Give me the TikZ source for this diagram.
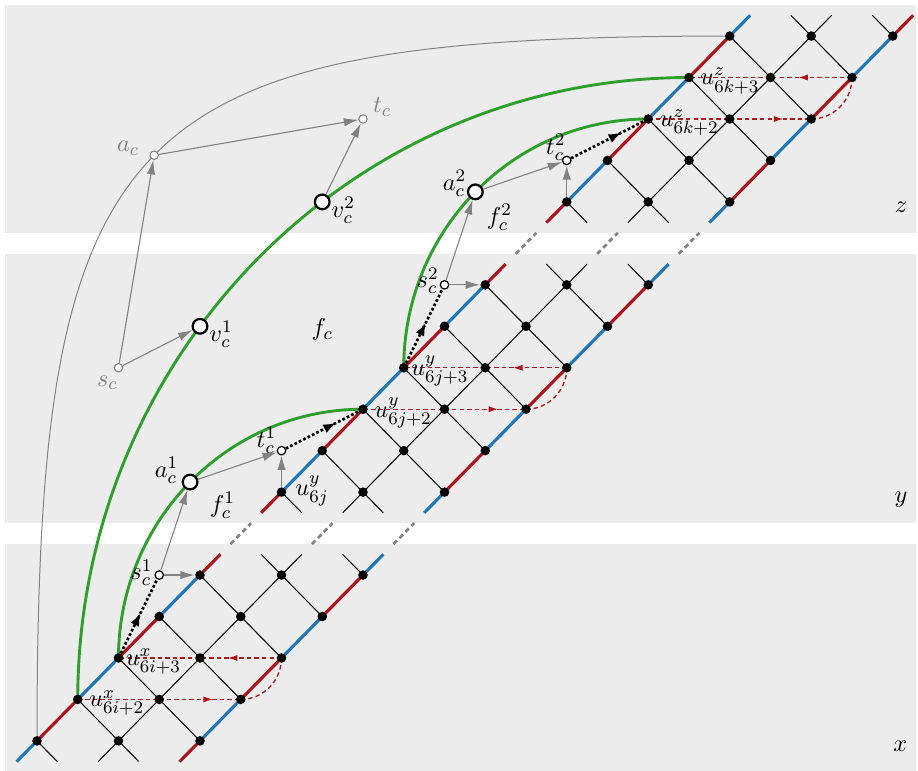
\documentclass[11pt,tikz,border=0pt]{standalone}
\usepackage{amsmath}
\usepackage{xcolor}
\usepackage{tikz}
\usetikzlibrary{
  arrows.meta,
  positioning,
  calc,
  backgrounds,
  decorations.markings
}
\definecolor{railred}{RGB}{170,22,28}
\definecolor{railblue}{RGB}{33,118,182}
\definecolor{arcgreen}{RGB}{46,158,44}
\definecolor{panelgray}{RGB}{236,236,236}
\definecolor{helpergray}{RGB}{130,130,130}
\tikzset{
  dot/.style={circle,fill=black,inner sep=0pt,minimum size=4.3pt},
  hub/.style={circle,draw=black,fill=white,line width=1pt,inner sep=0pt,minimum size=6.6pt},
  port/.style={circle,draw=black,fill=white,line width=0.55pt,inner sep=0pt,minimum size=3.8pt},
  ghost/.style={circle,draw=helpergray,fill=white,line width=0.5pt,inner sep=0pt,minimum size=3.8pt},
  lbl/.style={inner sep=0pt},
  ghostlbl/.style={inner sep=0pt,text=helpergray},
  panel/.style={fill=panelgray},
  rail/.style={line width=1.4pt},
  rung/.style={line width=0.45pt,draw=black},
  greenarc/.style={line width=1.3pt,draw=arcgreen},
  ghostarc/.style={line width=0.45pt,draw=helpergray},
  helper/.style={draw=helpergray,line width=0.5pt,-{Latex[length=6.5pt,width=3.8pt]}},
  gapline/.style={draw=helpergray,line width=1.2pt,dash pattern=on 2.2pt off 1.6pt,
    shorten <=6.5pt,shorten >=6.5pt},
  hop/.style={line width=1.2pt,densely dotted,postaction={decorate},
    decoration={markings,mark=at position #1 with {\arrow{Latex[length=6pt,width=4.2pt]}}}},
  flipline/.style={draw=railred,line width=0.6pt,dash pattern=on 2pt off 1.4pt},
  fliptip/.style={postaction={decorate},
    decoration={markings,mark=at position #1 with {\arrow{Latex[length=4.4pt,width=2.8pt]}}}}
}

\begin{document}
\begin{tikzpicture}[x=18.34pt,y=18.66pt]
  \useasboundingbox (-0.908,-0.723) rectangle (21.62,17.87);
  % the three layers
  \begin{scope}[on background layer]
    \fill[panel] (-0.78,-0.75) rectangle (21.57,4.75);
    \fill[panel] (-0.78,5.25) rectangle (21.57,11.75);
    \fill[panel] (-0.78,12.25) rectangle (21.57,17.75);
  \end{scope}
  \node[lbl,anchor=base east] (lab-x) at (21.37,-0.25) {$x$};
  \node[lbl,anchor=base east] (lab-y) at (21.37,5.75) {$y$};
  \node[lbl,anchor=base east] (lab-z) at (21.37,12.75) {$z$};

  % lattice vertices and stub ends
  \foreach \pan/\rlo/\rhi in {x/0/4,y/6/11,z/13/17} {
    \foreach \rr in {\rlo,...,\rhi}
      \foreach \cc in {0,1,2}
        \node[dot] (\pan-\rr-\cc) at (\rr+2*\cc,\rr) {};
    \foreach \k in {0,...,5} {
      \coordinate (\pan-b-\k) at (\rlo-0.5+\k,\rlo-0.5);
      \coordinate (\pan-t-\k) at (\rhi-0.5+\k,\rhi+0.5);
    }
  }

  % gadget vertices
  \node[ghost] (sc) at (2,9) {};
  \node[ghost] (ac) at (2.875,14.125) {};
  \node[ghost] (tc) at (8,15) {};
  \node[hub] (v1) at (4,10) {};
  \node[hub] (v2) at (7,13) {};
  \node[hub] (a1) at (3.757,6.243) {};
  \node[hub] (a2) at (10.757,13.243) {};
  \node[port] (s1) at (3,4) {};
  \node[port] (t1) at (6,7) {};
  \node[port] (s2) at (10,11) {};
  \node[port] (t2) at (13,14) {};

  % lattice edges
  \begin{scope}[on background layer]
    \foreach \pan/\rlo/\rhi/\q [evaluate=\rhi as \rtop using int(\rhi-1)] in {x/0/4/0,y/6/11/1,z/13/17/0} {
      \foreach \rr [evaluate=\rr as \rn using int(\rr+1)] in {\rlo,...,\rtop} {
        \pgfmathtruncatemacro\parity{mod(\rr+\q,2)}
        \ifnum\parity=0 \def\ca{railred}\def\cb{railblue}\else\def\ca{railblue}\def\cb{railred}\fi
        \draw[rail,draw=\ca] (\pan-\rr-0.center) -- (\pan-\rn-0.center);
        \draw[rung] (\pan-\rr-1.center) -- (\pan-\rn-1.center);
        \draw[rail,draw=\cb] (\pan-\rr-2.center) -- (\pan-\rn-2.center);
        \draw[rung] (\pan-\rn-0.center) -- (\pan-\rr-1.center);
        \draw[rung] (\pan-\rn-1.center) -- (\pan-\rr-2.center);
      }
      % stubs
      \pgfmathtruncatemacro\parity{mod(\rlo+1+\q,2)}
      \ifnum\parity=0 \def\ca{railred}\def\cb{railblue}\else\def\ca{railblue}\def\cb{railred}\fi
      \draw[rail,draw=\ca] (\pan-b-0) -- (\pan-\rlo-0.center);
      \draw[rung] (\pan-b-2) -- (\pan-\rlo-1.center);
      \draw[rail,draw=\cb] (\pan-b-4) -- (\pan-\rlo-2.center);
      \draw[rung] (\pan-\rlo-0.center) -- (\pan-b-1);
      \draw[rung] (\pan-\rlo-1.center) -- (\pan-b-3);
      \pgfmathtruncatemacro\parity{mod(\rhi+\q,2)}
      \ifnum\parity=0 \def\ca{railred}\def\cb{railblue}\else\def\ca{railblue}\def\cb{railred}\fi
      \draw[rail,draw=\ca] (\pan-\rhi-0.center) -- (\pan-t-1);
      \draw[rung] (\pan-\rhi-1.center) -- (\pan-t-3);
      \draw[rail,draw=\cb] (\pan-\rhi-2.center) -- (\pan-t-5);
      \draw[rung] (\pan-t-2) -- (\pan-\rhi-1.center);
      \draw[rung] (\pan-t-4) -- (\pan-\rhi-2.center);
    }
    % gaps between layers
    \foreach \k [evaluate=\k as \kk using int(\k+1)] in {0,2,4} {
      \draw[gapline] (x-t-\kk) -- (y-b-\k);
      \draw[gapline] (y-t-\kk) -- (z-b-\k);
    }
    % swaps
    \foreach \pan/\ru/\rv in {x/1/2,y/8/9,z/15/16} {
      \draw[flipline] (\pan-\ru-0.center) -- (\pan-\ru-1.center);
      \draw[flipline,fliptip=0.66] (\pan-\ru-1.center) -- (\pan-\ru-2.center);
      \draw[flipline] (\pan-\ru-2.center) to[out=0,in=-90] (\pan-\rv-2.center);
      \draw[flipline,fliptip=0.66] (\pan-\rv-2.center) -- (\pan-\rv-1.center);
      \draw[flipline] (\pan-\rv-1.center) -- (\pan-\rv-0.center);
    }
    % clause cycle
    \draw[ghostarc] (x-0-0.center) .. controls +(0,15) and +(-15,0) .. (z-17-0.center);
    \draw[greenarc] (x-1-0.center) to[out=90,in=180] (z-16-0.center);
    \draw[greenarc] (x-2-0.center) to[out=90,in=180] (y-8-0.center);
    \draw[greenarc] (y-9-0.center) to[out=90,in=180] (z-15-0.center);
  \end{scope}

  % labels
  \node[ghostlbl] (lab-sc) at ($(sc)+(-5pt,-6.8pt)$) {$s_c$};
  \node[ghostlbl] (lab-ac) at ($(ac)+(-11.7pt,3.2pt)$) {$a_c$};
  \node[ghostlbl] (lab-tc) at ($(tc)+(8.6pt,5.4pt)$) {$t_c$};
  \node[lbl] (lab-v1) at ($(v1)+(9.5pt,-3.6pt)$) {$v_c^1$};
  \node[lbl] (lab-v2) at ($(v2)+(9.5pt,-3.6pt)$) {$v_c^2$};
  \node[lbl] (lab-a1) at ($(a1)+(-10.6pt,5.4pt)$) {$a_c^1$};
  \node[lbl] (lab-a2) at ($(a2)+(-9.4pt,3.8pt)$) {$a_c^2$};
  \node[lbl] (lab-s1) at ($(s1)+(-8pt,1pt)$) {$s_c^1$};
  \node[lbl] (lab-s2) at ($(s2)+(-7.6pt,1.8pt)$) {$s_c^2$};
  \node[lbl] (lab-t1) at ($(t1)+(-6.8pt,4.5pt)$) {$t_c^1$};
  \node[lbl] (lab-t2) at ($(t2)+(-5pt,5.9pt)$) {$t_c^2$};
  \node[lbl] (lab-f1) at (4.55,5.68) {$f_c^1$};
  \node[lbl] (lab-f2) at (11.35,12.62) {$f_c^2$};
  \node[lbl] (lab-fc) at (7,9.92) {$f_c$};
  \node[lbl,right=2.6pt of x-1-0,yshift=-1.6pt] (lab-x2) {$u^x_{6i+2}$};
  \node[lbl,right=0.8pt of x-2-0,yshift=-1.6pt] (lab-x3) {$u^x_{6i+3}$};
  \node[lbl,right=3.7pt of y-6-0,yshift=0.5pt] (lab-y0) {$u^y_{6j}$};
  \node[lbl,right=2.6pt of y-8-0,yshift=-1.6pt] (lab-y2) {$u^y_{6j+2}$};
  \node[lbl,right=0.8pt of y-9-0,yshift=-1.6pt] (lab-y3) {$u^y_{6j+3}$};
  \node[lbl,right=2.6pt of z-15-0,yshift=-1.6pt] (lab-z2) {$u^z_{6k+2}$};
  \node[lbl,right=2.6pt of z-16-0,yshift=-1.6pt] (lab-z3) {$u^z_{6k+3}$};

  % helper arrows
  \draw[helper] (sc) -- (ac);
  \draw[helper] (sc) -- (v1);
  \draw[helper] (ac) -- (tc);
  \draw[helper] (v2) -- (tc);
  \draw[helper] (s1) -- (a1);
  \draw[helper] (a1) -- (t1);
  \draw[helper] (y-6-0) -- (t1);
  \draw[helper] (s1) -- (x-4-0);
  \draw[helper] (s2) -- (a2);
  \draw[helper] (a2) -- (t2);
  \draw[helper] (z-13-0) -- (t2);
  \draw[helper] (s2) -- (y-11-0);

  % jumps between layers
  \draw[hop=0.55] (x-2-0) -- (s1);
  \draw[hop=0.7] (t1) -- (y-8-0);
  \draw[hop=0.55] (y-9-0) -- (s2);
  \draw[hop=0.7] (t2) -- (z-15-0);
\end{tikzpicture}
\end{document}
